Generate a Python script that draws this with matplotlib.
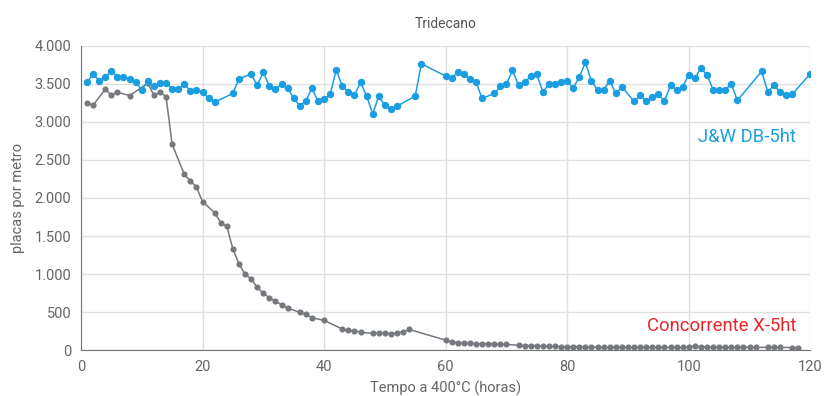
import matplotlib
matplotlib.use('Agg')
import matplotlib.pyplot as plt
from matplotlib.ticker import FuncFormatter, MultipleLocator

plt.rcParams['font.family'] = ['Roboto', 'DejaVu Sans']

# J&W DB-5ht (placas por metro vs horas)
jw_hours = [1, 2, 3, 4, 5, 6, 7, 8, 9, 10, 11, 12, 13, 14, 15, 16, 17, 18, 19, 20,
            21, 22, 25, 26, 28, 29, 30, 31, 32, 33, 34, 35, 36, 37, 38, 39, 40, 41,
            42, 43, 44, 45, 46, 47, 48, 49, 50, 51, 52, 55, 56, 60, 61, 62, 63, 64,
            65, 66, 68, 69, 70, 71, 72, 73, 74, 75, 76, 77, 78, 79, 80, 81, 82, 83,
            84, 85, 86, 87, 88, 89, 91, 92, 93, 94, 95, 96, 97, 98, 99, 100, 101,
            102, 103, 104, 105, 106, 107, 108, 112, 113, 114, 115, 116, 117, 120]
jw_plates = [3520, 3630, 3542, 3587, 3674, 3590, 3590, 3568, 3528, 3419, 3534, 3468,
             3507, 3515, 3436, 3428, 3498, 3410, 3415, 3396, 3313, 3260, 3375, 3568,
             3630, 3481, 3656, 3468, 3428, 3502, 3449, 3313, 3212, 3274, 3445, 3270,
             3296, 3362, 3687, 3468, 3396, 3349, 3524, 3340, 3106, 3340, 3217, 3168,
             3208, 3340, 3766, 3604, 3577, 3652, 3634, 3564, 3524, 3309, 3375, 3468,
             3498, 3679, 3481, 3524, 3600, 3626, 3396, 3494, 3494, 3520, 3534, 3449,
             3590, 3784, 3534, 3423, 3423, 3542, 3375, 3462, 3270, 3349, 3270, 3330,
             3366, 3278, 3481, 3419, 3462, 3621, 3573, 3709, 3621, 3423, 3423, 3423,
             3502, 3283, 3666, 3396, 3481, 3396, 3353, 3362, 3634]

# Concorrente X-5ht
cx_hours = [1, 2, 4, 5, 6, 8, 11, 12, 13, 14, 15, 17, 18, 19, 20, 22, 23, 24, 25, 26,
            27, 28, 29, 30, 31, 32, 33, 34, 36, 37, 38, 40, 43, 44, 45, 46, 48, 49,
            50, 51, 52, 53, 54, 60, 61, 62, 63, 64, 65, 66, 67, 68, 69, 70, 72, 73,
            74, 75, 76, 77, 78, 79, 80, 81, 82, 83, 84, 85, 86, 87, 88, 89, 90, 91,
            92, 93, 94, 95, 96, 97, 98, 99, 100, 101, 102, 103, 104, 105, 106, 107,
            108, 109, 110, 111, 113, 114, 115, 117, 118]
cx_plates = [3254, 3220, 3431, 3352, 3391, 3347, 3510, 3352, 3391, 3334, 2707, 2312,
             2224, 2145, 1952, 1807, 1675, 1628, 1329, 1132, 1000, 934, 825, 746, 688,
             641, 596, 553, 496, 470, 425, 391, 276, 259, 254, 233, 220, 220, 228, 211,
             228, 241, 272, 130, 105, 96, 92, 88, 85, 83, 80, 78, 76, 75, 62, 60, 60,
             58, 55, 50, 48, 45, 42, 45, 46, 45, 40, 38, 37, 37, 36, 36, 36, 36, 36,
             36, 36, 35, 35, 35, 36, 36, 45, 47, 44, 40, 38, 37, 37, 37, 36, 36, 36,
             36, 35, 35, 35, 33, 33]

blue = '#1a9ee2'
gray = '#75787d'
red = '#e8262b'
text_gray = '#666666'

fig = plt.figure(figsize=(8.26, 3.96), dpi=100)
ax = fig.add_axes([0.098, 0.116, 0.883, 0.768])

ax.plot(cx_hours, cx_plates, color=gray, lw=1.1, marker='o', ms=3.4, zorder=3)
ax.plot(jw_hours, jw_plates, color=blue, lw=1.1, marker='o', ms=4.3, zorder=4)

ax.set_xlim(0, 120)
ax.set_ylim(0, 4000)
ax.xaxis.set_major_locator(MultipleLocator(20))
ax.yaxis.set_major_locator(MultipleLocator(500))
ax.yaxis.set_major_formatter(FuncFormatter(lambda v, p: '{:,.0f}'.format(v).replace(',', '.')))

ax.grid(True, color='#e0e0e0', lw=1)
ax.set_axisbelow(True)
for gl in ax.xaxis.get_gridlines()[:1] + ax.xaxis.get_gridlines()[-1:]:
    gl.set_visible(False)

for s in ['top', 'right']:
    ax.spines[s].set_visible(False)
for s in ['left', 'bottom']:
    ax.spines[s].set_color('#757575')
ax.tick_params(length=0, labelsize=10.5, colors=text_gray, pad=7)

ax.set_xlabel('Tempo a 400°C (horas)', fontsize=10.5, color=text_gray, labelpad=5)
ax.set_ylabel('placas por metro', fontsize=10.5, color=text_gray, labelpad=7)
ax.set_title('Tridecano', fontsize=10, color='#555555', pad=13)

ax.text(117.7, 2800, 'J&W DB-5ht', color=blue, fontsize=13.3, ha='right', va='center')
ax.text(117.7, 320, 'Concorrente X-5ht', color=red, fontsize=13.3, ha='right', va='center')

fig.savefig('out.png', dpi=100)
